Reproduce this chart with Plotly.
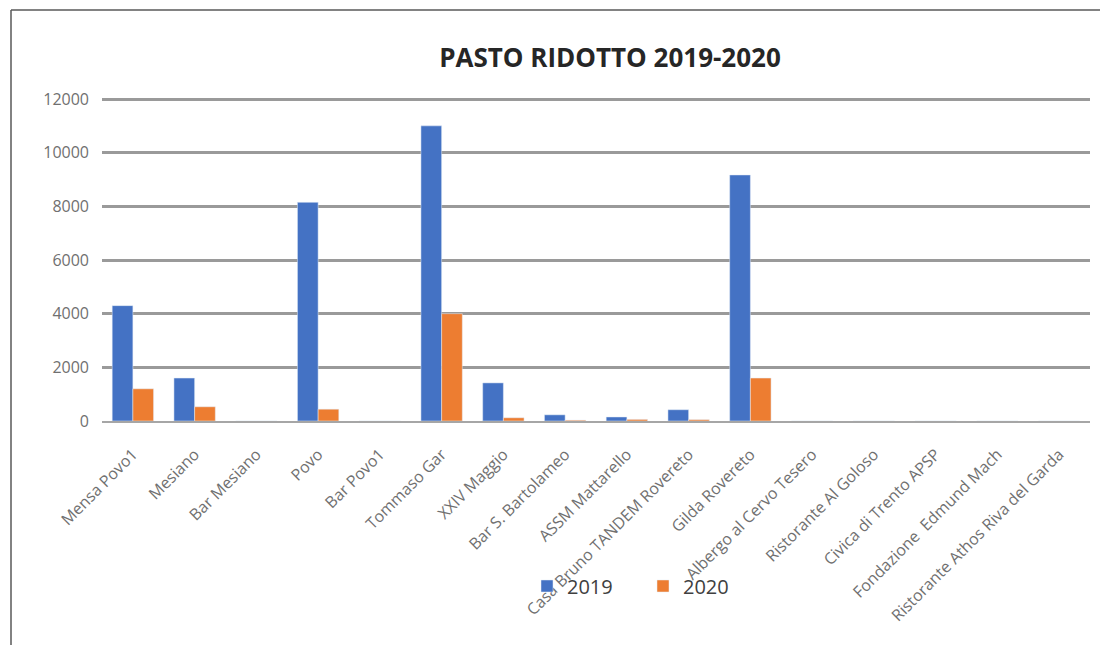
import plotly.graph_objects as go

# Locali e numero di pasti ridotti
locali = ['Mensa Povo1', 'Mesiano', 'Bar Mesiano', 'Povo', 'Bar Povo1', 'Tommaso Gar',
          'XXIV Maggio', 'Bar S. Bartolameo', 'ASSM Mattarello', 'Casa Bruno TANDEM Rovereto',
          'Gilda Rovereto', 'Albergo al Cervo Tesero', 'Ristorante Al Goloso',
          'Civica di Trento APSP', 'Fondazione  Edmund Mach', 'Ristorante Athos Riva del Garda']

pasti_2019 = [4300, 1600, 0, 8150, 0, 11000, 1420, 230, 150, 420, 9170, 0, 0, 0, 0, 0]
pasti_2020 = [1200, 530, 0, 440, 0, 4000, 120, 30, 60, 50, 1600, 0, 0, 0, 0, 0]

y_ticks = [0, 2000, 4000, 6000, 8000, 10000, 12000]

fig = go.Figure()
fig.add_trace(go.Bar(x=locali, y=pasti_2019, name='2019', marker_color='#4472C4'))
fig.add_trace(go.Bar(x=locali, y=pasti_2020, name='2020', marker_color='#ED7D31'))

# page body adds 8px offset, so work in shifted pixel coords
W, H = 1100, 637
L, R, T, B = 94, 1082, 87, 413
def px(x):
    return (x - L) / (R - L)
def py(y):
    return (B - y) / (B - T)

fig.update_layout(
    width=W, height=H,
    margin=dict(l=L, r=W - R, t=T, b=H - B, autoexpand=False),
    paper_bgcolor='white', plot_bgcolor='white',
    font=dict(family='Open Sans', color='#595959'),
    title=dict(text='<b>PASTO RIDOTTO 2019-2020</b>', x=602 / W, xanchor='center',
               y=1 - 50 / H, yanchor='middle',
               font=dict(size=26, color='#262626', family='Open Sans')),
    barmode='group', bargap=0.33, bargroupgap=0,
    showlegend=True,
    legend=dict(orientation='h', x=519 / W, xanchor='left', y=1 - 578 / H,
                yanchor='middle', xref='container', yref='container',
                font=dict(size=20, color='#404040'), entrywidth=71,
                bgcolor='rgba(255,255,255,0)', itemwidth=30),
    xaxis=dict(tickangle=-45, tickfont=dict(size=16, color='#707070'),
               showline=True, linecolor='#a6a6a6', linewidth=1.5, ticks='',
               range=[-0.5, len(locali) - 0.5], ticklabelstandoff=16),
    yaxis=dict(range=[0, 12150], tickvals=y_ticks, tickformat='d',
               tickfont=dict(size=16, color='#707070'),
               showgrid=True, gridcolor='#9a9a9a', gridwidth=2.5, zeroline=False,
               ticklabelstandoff=12),
    shapes=[
        dict(type='line', xref='paper', yref='paper', x0=px(3), x1=px(W), y0=py(2), y1=py(2),
             line=dict(color='#595959', width=1.5)),
        dict(type='line', xref='paper', yref='paper', x0=px(3), x1=px(3), y0=py(2), y1=py(H),
             line=dict(color='#595959', width=1.5)),
    ],
)

fig.write_html('out.html')
